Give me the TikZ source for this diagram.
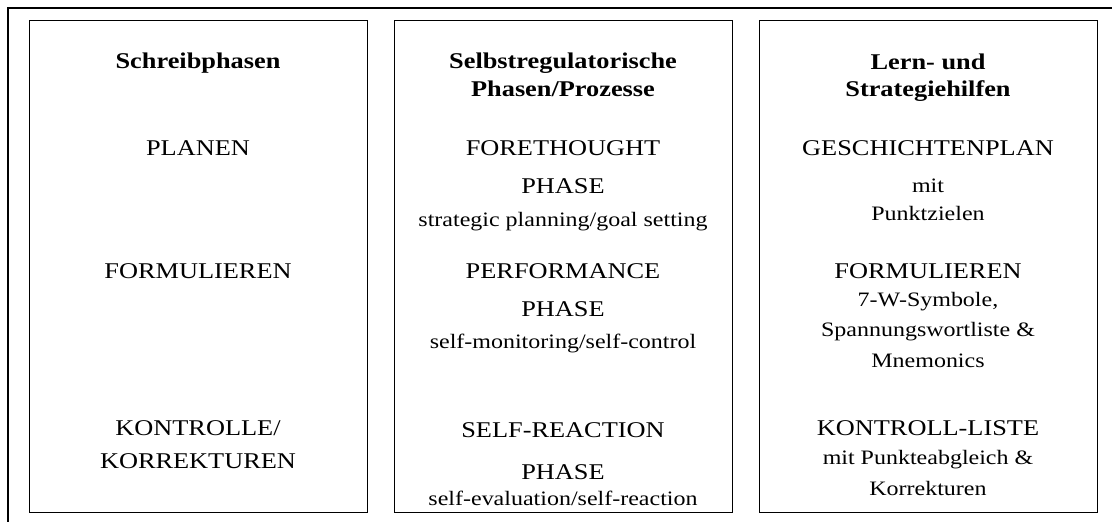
\documentclass[tikz,border=0pt]{standalone}
\usepackage{fontspec}
\setmainfont{Liberation Serif}
% panel text is set slightly wide
\newcommand{\widetext}[1]{\scalebox{1.17}[1]{#1}}
\begin{document}
\begin{tikzpicture}[x=1pt,y=-1pt,
  panel/.style={draw,line width=1.3pt,minimum width=338pt,minimum height=492pt,inner sep=0pt,anchor=north west},
  head/.style={font=\fontsize{22.5}{27}\selectfont\bfseries,inner sep=0pt,anchor=base},
  big/.style={font=\fontsize{22.5}{26}\selectfont,inner sep=0pt,anchor=base},
  small/.style={font=\fontsize{20.5}{24}\selectfont,inner sep=0pt,anchor=base}]
\useasboundingbox (0,0) rectangle (1112,522);
% outer frame (only top and left edges visible)
\coordinate (fbl) at (8,522);
\coordinate (ftl) at (8,8);
\coordinate (ftr) at (1112,8);
\draw[line width=1.3pt] (fbl) -- (ftl) -- (ftr);
% three panels
\node[panel] (p1) at (29,20) {};
\node[panel] (p2) at (394,20) {};
\node[panel] (p3) at (759,20) {};
% column 1: writing phases
\node[head] (h1) at (198,68) {\widetext{Schreibphasen}};
\node[big] (a1) at (198,155) {\widetext{PLANEN}};
\node[big] (a2) at (198,278) {\widetext{FORMULIEREN}};
\node[big] (a3) at (198,435) {\widetext{KONTROLLE/}};
\node[big] (a4) at (198,468) {\widetext{KORREKTUREN}};
% column 2: self-regulatory phases
\node[head] (h2a) at (563,68) {\widetext{Selbstregulatorische}};
\node[head] (h2b) at (563,96) {\widetext{Phasen/Prozesse}};
\node[big] (b1) at (563,155) {\widetext{FORETHOUGHT}};
\node[big] (b2) at (563,193) {\widetext{PHASE}};
\node[small] (b3) at (563,226) {\widetext{strategic planning/goal setting}};
\node[big] (b4) at (563,278) {\widetext{PERFORMANCE}};
\node[big] (b5) at (563,316) {\widetext{PHASE}};
\node[small] (b6) at (563,348) {\widetext{self-monitoring/self-control}};
\node[big] (b7) at (563,437) {\widetext{SELF-REACTION}};
\node[big] (b8) at (563,479) {\widetext{PHASE}};
\node[small] (b9) at (563,505) {\widetext{self-evaluation/self-reaction}};
% column 3: learning and strategy aids
\node[head] (h3a) at (928,69) {\widetext{Lern- und}};
\node[head] (h3b) at (928,96) {\widetext{Strategiehilfen}};
\node[big] (c1) at (928,155) {\widetext{GESCHICHTENPLAN}};
\node[small] (c2) at (928,192) {\widetext{mit}};
\node[small] (c3) at (928,220) {\widetext{Punktzielen}};
\node[big] (c4) at (928,278) {\widetext{FORMULIEREN}};
\node[small] (c5) at (928,306) {\widetext{7-W-Symbole,}};
\node[small] (c6) at (928,336) {\widetext{Spannungswortliste \&}};
\node[small] (c7) at (928,367) {\widetext{Mnemonics}};
\node[big] (c8) at (928,435) {\widetext{KONTROLL-LISTE}};
\node[small] (c9) at (928,464) {\widetext{mit Punkteabgleich \&}};
\node[small] (c10) at (928,495) {\widetext{Korrekturen}};
\end{tikzpicture}
\end{document}
